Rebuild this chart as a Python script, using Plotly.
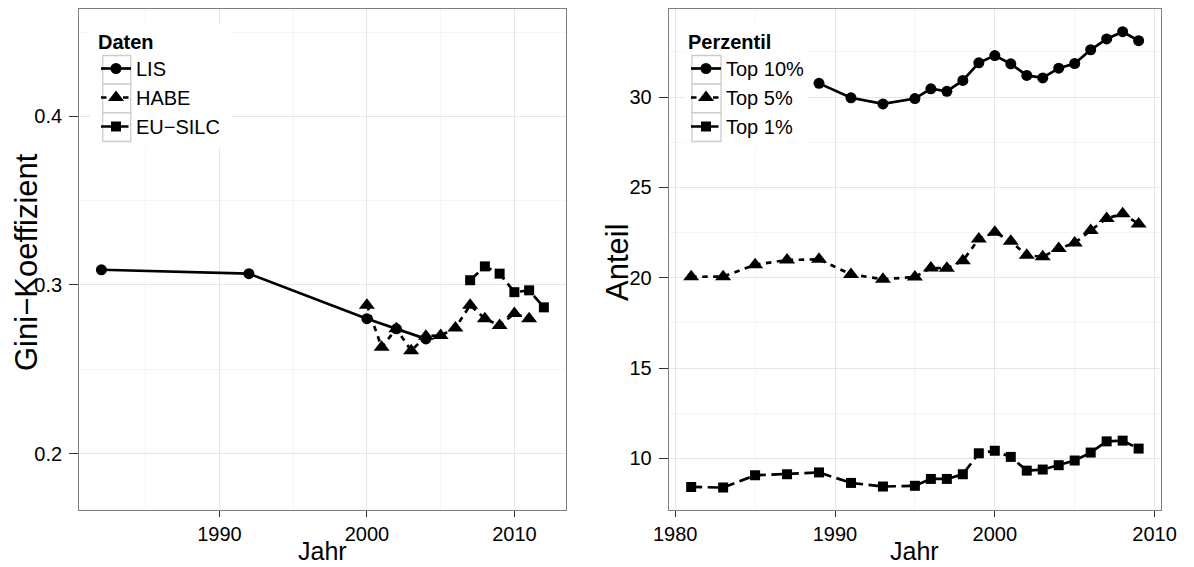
import plotly.graph_objects as go

# ---------------- data ----------------
lis_years = [1982, 1992, 2000, 2002, 2004]
lis_gini = [0.309, 0.3067, 0.280, 0.274, 0.268]

habe_years = [2000, 2001, 2002, 2003, 2004, 2005, 2006, 2007, 2008, 2009, 2010, 2011]
habe_gini = [0.288, 0.263, 0.274, 0.261, 0.2696, 0.270, 0.2745, 0.288, 0.280, 0.276, 0.283, 0.280]

silc_years = [2007, 2008, 2009, 2010, 2011, 2012]
silc_gini = [0.3028, 0.311, 0.3067, 0.2957, 0.2968, 0.2867]

top10_years = [1989, 1991, 1993, 1995, 1996, 1997, 1998, 1999, 2000, 2001, 2002,
               2003, 2004, 2005, 2006, 2007, 2008, 2009]
top10 = [30.76, 29.96, 29.62, 29.92, 30.46, 30.32, 30.92, 31.9, 32.3, 31.84, 31.2,
         31.06, 31.6, 31.86, 32.62, 33.22, 33.62, 33.12]

perc_years = [1981, 1983, 1985, 1987, 1989, 1991, 1993, 1995, 1996, 1997, 1998, 1999,
              2000, 2001, 2002, 2003, 2004, 2005, 2006, 2007, 2008, 2009]
top5 = [20.05, 20.06, 20.72, 20.98, 21.02, 20.18, 19.92, 20.04, 20.54, 20.52, 20.94, 22.14,
        22.52, 22.02, 21.24, 21.16, 21.62, 21.92, 22.62, 23.28, 23.54, 22.98]
top1 = [8.42, 8.38, 9.06, 9.12, 9.22, 8.64, 8.44, 8.48, 8.86, 8.86, 9.12, 10.28,
        10.42, 10.08, 9.32, 9.38, 9.62, 9.88, 10.32, 10.94, 10.98, 10.54]

left_names = ["LIS", "HABE", "EU\u2212SILC"]
right_names = ["Top 10%", "Top 5%", "Top 1%"]
x_title = "Jahr"
left_y_title = "Gini\u2212Koeffizient"
right_y_title = "Anteil"

# ---------------- styling ----------------
# the page body has an 8px margin, so the figure is drawn 8px smaller and
# screen positions are converted to figure positions below
OFF = 8
W, H = 1194 - OFF, 567 - OFF
FONT = "Liberation Sans, Arial, sans-serif"
LW = 2.7
DASH_A = "5.5px,5.5px"
DASH_B = "11px,5.5px"


def px(x):
    return (x - OFF) / W


def py(y):
    return 1 - (y - OFF) / H


fig = go.Figure()


def add(x, y, name, dash, symbol, size, xa, ya, leg):
    fig.add_trace(go.Scatter(
        x=x, y=y, name=name, mode="lines+markers",
        line=dict(color="black", width=LW, dash=dash),
        marker=dict(color="black", symbol=symbol, size=size),
        xaxis=xa, yaxis=ya, legend=leg,
    ))


add(lis_years, lis_gini, left_names[0], "solid", "circle", 11, "x", "y", "legend")
add(habe_years, habe_gini, left_names[1], DASH_A, "triangle-up", 14, "x", "y", "legend")
add(silc_years, silc_gini, left_names[2], DASH_B, "square", 10, "x", "y", "legend")

add(top10_years, top10, right_names[0], "solid", "circle", 11, "x2", "y2", "legend2")
add(perc_years, top5, right_names[1], DASH_A, "triangle-up", 14, "x2", "y2", "legend2")
add(perc_years, top1, right_names[2], DASH_B, "square", 10, "x2", "y2", "legend2")

axis_common = dict(
    showline=True, mirror=True, linecolor="#7f7f7f", linewidth=1.3,
    ticks="outside", tickcolor="#333333", tickwidth=1,
    showgrid=True, gridcolor="#e6e6e6", gridwidth=1,
    zeroline=False, automargin=False,
    tickfont=dict(family=FONT, size=20, color="black"),
)
xcommon = dict(ticklen=6, **axis_common)
ycommon = dict(ticklen=9, ticklabelstandoff=3, **axis_common)
minor_x = dict(tickvals=[1985, 1995, 2005], showgrid=True, gridcolor="#f5f5f5", ticks="")

ydom = [py(510), py(9.3)]

fig.update_layout(
    width=W, height=H,
    margin=dict(l=0, r=0, t=0, b=0, autoexpand=False),
    paper_bgcolor="white", plot_bgcolor="white",
    font=dict(family=FONT, color="black"),
    xaxis=dict(domain=[px(79.3), px(566)], range=[1980.5, 2013.5],
               tickvals=[1990, 2000, 2010], anchor="y", minor=minor_x, **xcommon),
    yaxis=dict(domain=ydom, range=[0.1665, 0.4635],
               tickvals=[0.2, 0.3, 0.4], ticktext=["0.2", "0.3", "0.4"], anchor="x",
               minor=dict(tickvals=[0.25, 0.35, 0.45], showgrid=True,
                          gridcolor="#f5f5f5", ticks=""), **ycommon),
    xaxis2=dict(domain=[px(668.8), px(1161)], range=[1979.6, 2010.4],
                tickvals=[1980, 1990, 2000, 2010], anchor="y2", minor=minor_x, **xcommon),
    yaxis2=dict(domain=ydom, range=[7.14, 34.86],
                tickvals=[10, 15, 20, 25, 30], anchor="x2",
                minor=dict(tickvals=[12.5, 17.5, 22.5, 27.5, 32.5], showgrid=True,
                           gridcolor="#f5f5f5", ticks=""), **ycommon),
    legend=dict(x=px(96), y=py(23), xanchor="left", yanchor="top",
                bgcolor="rgba(0,0,0,0)", borderwidth=0,
                title=dict(text="<b>Daten</b>", font=dict(family=FONT, size=20)),
                font=dict(family=FONT, size=20, color="black"),
                itemwidth=30, tracegroupgap=0),
    legend2=dict(x=px(686), y=py(23), xanchor="left", yanchor="top",
                 bgcolor="rgba(0,0,0,0)", borderwidth=0,
                 title=dict(text="<b>Perzentil</b>", font=dict(family=FONT, size=20)),
                 font=dict(family=FONT, size=20, color="black"),
                 itemwidth=30, tracegroupgap=0),
    showlegend=True,
)

# legend backgrounds and key boxes (ggplot style)
for (bx0, bx1, kx0, kx1) in [(90, 232, 102.7, 130.7), (685, 808, 692, 721)]:
    fig.add_shape(type="rect", xref="paper", yref="paper",
                  x0=px(bx0), x1=px(bx1), y0=py(148), y1=py(25),
                  fillcolor="white", line=dict(width=0), layer="above")
    for (ky0, ky1) in [(55.5, 84.2), (84.2, 112.9), (112.9, 141.5)]:
        fig.add_shape(type="rect", xref="paper", yref="paper",
                      x0=px(kx0), x1=px(kx1), y0=py(ky1), y1=py(ky0),
                      fillcolor="white", line=dict(color="#cccccc", width=1.3),
                      layer="above")

# axis titles
for cx, txt in [((79.3 + 566) / 2, x_title), ((668.8 + 1161) / 2, x_title)]:
    fig.add_annotation(x=px(cx), y=py(551), xref="paper", yref="paper",
                       text=txt, showarrow=False, xanchor="center", yanchor="middle",
                       font=dict(family=FONT, size=25, color="black"))
for cx, txt in [(26, left_y_title), (617, right_y_title)]:
    fig.add_annotation(x=px(cx), y=py(262), xref="paper", yref="paper",
                       text=txt, showarrow=False, textangle=-90,
                       xanchor="center", yanchor="middle",
                       font=dict(family=FONT, size=31, color="black"))

fig.write_html("out.html")
